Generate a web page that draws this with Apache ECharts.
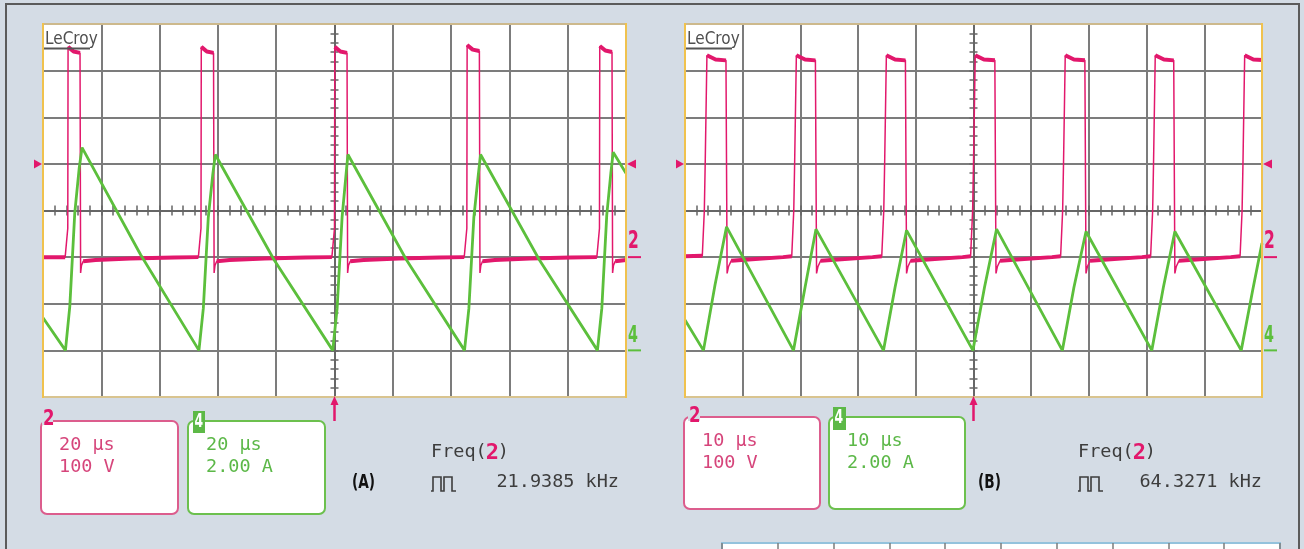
<!DOCTYPE html>
<html>
<head>
<meta charset="utf-8">
<title>Flyback scope captures</title>
<script src="https://cdn.jsdelivr.net/npm/echarts@6/dist/echarts.min.js"></script>
<style>
  html, body { margin: 0; padding: 0; background: #d4dce5; }
  #main { width: 1304px; height: 549px; }
</style>
</head>
<body>
<div id="main"></div>
<script>
// --- values read off the two captures ---
// ch2 = switch voltage (V), ch4 = current (A); time in µs, 0 = trigger
const redA = [
  [-100, 0], [-92.4, 0], [-91.5, 62], [-91.4, 451], [-90.6, 446], [-89.5, 441], [-87.3, 438], [-87.1, -34], [-86.8, -18], [-86.2, -9], [-82, -6], [-70, -3], [-55, -1], [-46.7, 0],
  [-45.8, 62], [-45.7, 451], [-44.9, 446], [-43.8, 441], [-41.5, 438], [-41.3, -34], [-41.0, -18], [-40.4, -9], [-36, -6], [-24, -3], [-10, -1], [-0.9, 0],
  [0, 62], [0.1, 451], [0.9, 446], [2.0, 441], [4.3, 438], [4.5, -34], [4.8, -18], [5.4, -9], [10, -6], [22, -3], [36, -1], [44.5, 0],
  [45.4, 62], [45.5, 455], [46.3, 450], [47.4, 445], [49.7, 442], [49.9, -34], [50.2, -18], [50.8, -9], [55, -6], [67, -3], [81, -1], [90.0, 0],
  [90.9, 62], [91.0, 453], [91.8, 448], [92.9, 443], [95.2, 440], [95.4, -34], [95.7, -18], [96.3, -9], [100, -6]
];
// noisy flat parts of ch2 (drawn thicker)
const redBandA = [
  [-100, 0], [-92.4, 0], [-92.4, '-'],
  [-91.4, 451], [-89.5, 441], [-87.3, 438], [-87.3, '-'],
  [-86.2, -9], [-82, -6], [-70, -3], [-55, -1], [-46.7, 0], [-46.7, '-'],
  [-45.7, 451], [-43.8, 441], [-41.5, 438], [-41.5, '-'],
  [-40.4, -9], [-36, -6], [-24, -3], [-10, -1], [-0.9, 0], [-0.9, '-'],
  [0.1, 451], [2.0, 441], [4.3, 438], [4.3, '-'],
  [5.4, -9], [10, -6], [22, -3], [36, -1], [44.5, 0], [44.5, '-'],
  [45.5, 455], [47.4, 445], [49.7, 442], [49.7, '-'],
  [50.8, -9], [55, -6], [67, -3], [81, -1], [90.0, 0], [90.0, '-'],
  [91.0, 453], [92.9, 443], [95.2, 440], [95.2, '-'],
  [96.3, -9], [100, -6]
];
const greenA = [
  [-100, 1.4], [-92.3, 0], [-90.8, 1.9], [-89.1, 5.9], [-87.6, 7.8], [-86.6, 8.7],
  [-66.5, 4.1], [-46.5, 0], [-45.0, 1.8], [-43.3, 5.7], [-41.8, 7.5], [-40.9, 8.4],
  [-20.8, 3.9], [-0.6, 0], [0.9, 1.8], [2.6, 5.7], [4.0, 7.6], [4.6, 8.4],
  [24.6, 3.9], [44.6, 0], [46.1, 1.8], [47.8, 5.7], [49.3, 7.5], [50.1, 8.4],
  [70.2, 3.9], [90.2, 0], [91.7, 1.8], [93.4, 5.8], [94.8, 7.6], [95.6, 8.5],
  [100, 7.6]
];

const redB = [
  [-50, 2], [-47.0, 3], [-46.65, 100], [-46.5, 200], [-46.2, 433], [-45.7, 428], [-44.7, 424], [-42.9, 422], [-42.7, -35], [-42.45, -20], [-42.0, -8], [-39, -5], [-33, 0], [-31.5, 2],
  [-31.15, 100], [-31.0, 200], [-30.7, 433], [-30.2, 428], [-29.2, 424], [-27.4, 422], [-27.2, -35], [-26.95, -20], [-26.5, -8], [-23.5, -5], [-17.5, 0], [-15.9, 2],
  [-15.55, 100], [-15.4, 200], [-15.1, 433], [-14.6, 428], [-13.6, 424], [-11.8, 422], [-11.6, -35], [-11.35, -20], [-10.9, -8], [-7.9, -5], [-1.9, 0], [-0.5, 2],
  [-0.15, 100], [0, 200], [0.3, 433], [0.8, 428], [1.8, 424], [3.7, 422], [3.9, -35], [4.15, -20], [4.6, -8], [7.6, -5], [13.6, 0], [15.1, 2],
  [15.45, 100], [15.6, 200], [15.9, 433], [16.4, 428], [17.4, 424], [19.3, 422], [19.5, -35], [19.75, -20], [20.2, -8], [23.2, -5], [29.2, 0], [30.7, 2],
  [31.05, 100], [31.2, 200], [31.5, 433], [32.0, 428], [33.0, 424], [34.7, 422], [34.9, -35], [35.15, -20], [35.6, -8], [38.6, -5], [44.6, 0], [46.2, 2],
  [46.55, 100], [46.7, 200], [47.0, 433], [47.5, 428], [48.5, 424], [50, 423]
];
const redBandB = [
  [-50, 2], [-47.0, 3], [-47.0, '-'],
  [-46.2, 433], [-44.7, 424], [-42.9, 422], [-42.9, '-'],
  [-42.0, -8], [-39, -5], [-33, 0], [-31.5, 2], [-31.5, '-'],
  [-30.7, 433], [-29.2, 424], [-27.4, 422], [-27.4, '-'],
  [-26.5, -8], [-23.5, -5], [-17.5, 0], [-15.9, 2], [-15.9, '-'],
  [-15.1, 433], [-13.6, 424], [-11.8, 422], [-11.8, '-'],
  [-10.9, -8], [-7.9, -5], [-1.9, 0], [-0.5, 2], [-0.5, '-'],
  [0.3, 433], [1.8, 424], [3.7, 422], [3.7, '-'],
  [4.6, -8], [7.6, -5], [13.6, 0], [15.1, 2], [15.1, '-'],
  [15.9, 433], [17.4, 424], [19.3, 422], [19.3, '-'],
  [20.2, -8], [23.2, -5], [29.2, 0], [30.7, 2], [30.7, '-'],
  [31.5, 433], [33.0, 424], [34.7, 422], [34.7, '-'],
  [35.6, -8], [38.6, -5], [44.6, 0], [46.2, 2], [46.2, '-'],
  [47.0, 433], [48.5, 424], [50, 423]
];
const greenB = [
  [-50, 1.3], [-46.8, 0], [-44.8, 2.8], [-42.8, 5.3],
  [-31.2, 0], [-29.2, 2.7], [-27.3, 5.2],
  [-15.6, 0], [-13.6, 2.7], [-11.6, 5.15],
  [-0.1, 0], [1.9, 2.7], [4.0, 5.2],
  [15.4, 0], [17.4, 2.7], [19.5, 5.1],
  [30.9, 0], [32.9, 2.7], [34.9, 5.1],
  [46.4, 0], [48.4, 2.6], [50, 4.6]
];

const timeSpan = [100, 50];        // ±µs across the screen
const timeDiv = [20, 10];          // µs per division
const voltAxis = [-300, 500, 100]; // ch2: 100 V/div, ground one div below centre
const ampAxis = [-2, 14, 2];       // ch4: 2 A/div, ground three divs below centre
const trigLevel = 200;             // V
const redBoxText = [['20 μs', '100 V'], ['10 μs', '100 V']];
const greenBoxText = [['20 μs', '2.00 A'], ['10 μs', '2.00 A']];
const freqText = ['21.9385 kHz', '64.3271 kHz'];
const panelNames = ['(A)', '(B)'];

// --- look ---
const BG = '#d4dce5';
const RED = '#e2186c';
const GREEN = '#5cbf3c';
const GRIDLINE = '#7c7c7c';
const AXIS = '#666';
const MONO = '"DejaVu Sans Mono", monospace';
const SANS = '"DejaVu Sans", sans-serif';

const panels = [
  { left: 43, top: 24, width: 583, height: 373 },
  { left: 685, top: 24, width: 577, height: 373 }
];

const grids = [], xAxes = [], yAxes = [], series = [];
panels.forEach((pn, p) => {
  grids.push({
    left: pn.left, top: pn.top, width: pn.width, height: pn.height,
    show: true, backgroundColor: '#fff', borderColor: '#efc25c', borderWidth: 2
  });
  [true, false].forEach((inside, k) => {
    xAxes.push({
      gridIndex: p, type: 'value', position: 'bottom',
      min: -timeSpan[p], max: timeSpan[p], interval: timeDiv[p],
      axisLine: { show: true, onZero: true, onZeroAxisIndex: 4 * p, lineStyle: { color: AXIS, width: 1.5 } },
      axisTick: { show: true, inside, length: 5, lineStyle: { color: AXIS, width: 1.5 } },
      minorTick: { show: true, splitNumber: 5, length: 5, lineStyle: { color: AXIS, width: 1.5 } },
      axisLabel: { show: false },
      splitLine: { show: k === 0, lineStyle: { color: GRIDLINE, width: 2 } }
    });
  });
  [true, false].forEach((inside, k) => {
    yAxes.push({
      gridIndex: p, type: 'value', position: 'left', min: -4, max: 4, interval: 1,
      axisLine: { show: true, onZero: true, onZeroAxisIndex: 2 * p, lineStyle: { color: AXIS, width: 1.5 } },
      axisTick: { show: true, inside, length: 4, lineStyle: { color: AXIS, width: 1.5 } },
      minorTick: { show: true, splitNumber: 5, length: 4, lineStyle: { color: AXIS, width: 1.5 } },
      axisLabel: { show: false },
      splitLine: { show: k === 0, lineStyle: { color: GRIDLINE, width: 2 } }
    });
  });
  yAxes.push({ gridIndex: p, type: 'value', show: false, min: voltAxis[0], max: voltAxis[1], interval: voltAxis[2] });
  yAxes.push({ gridIndex: p, type: 'value', show: false, min: ampAxis[0], max: ampAxis[1], interval: ampAxis[2] });
});

// the next capture, cut off at the bottom edge
grids.push({ left: 722, top: 543, width: 558, height: 40, show: true, backgroundColor: '#fff', borderColor: '#93c2dc', borderWidth: 2 });
xAxes.push({ gridIndex: 2, type: 'value', min: 0, max: 10, interval: 1, axisLine: { show: false }, axisTick: { show: false }, axisLabel: { show: false }, splitLine: { show: true, lineStyle: { color: GRIDLINE, width: 1.5 } } });
yAxes.push({ gridIndex: 2, type: 'value', min: 0, max: 1, show: false });

function trace(data, xi, yi, color, width) {
  return {
    type: 'line', xAxisIndex: xi, yAxisIndex: yi, data, symbol: 'none', showSymbol: false,
    connectNulls: false, silent: true, z: 3,
    lineStyle: { color, width }, itemStyle: { color }
  };
}
series.push(
  trace(redBandA, 0, 2, RED, 4), trace(redA, 0, 2, RED, 1.5), trace(greenA, 0, 3, GREEN, 2.8),
  trace(redBandB, 2, 6, RED, 4), trace(redB, 2, 6, RED, 1.5), trace(greenB, 2, 7, GREEN, 2.8)
);

const chart = echarts.init(document.getElementById('main'));
chart.setOption({ backgroundColor: BG, animation: false, grid: grids, xAxis: xAxes, yAxis: yAxes, series });

// --- screen furniture ---
function txt(x, y, text, size, color, o = {}) {
  const align = o.align || 'left';
  return {
    type: 'text', x, y, z: 20, silent: true, scaleX: o.sx || 1,
    style: {
      text, fill: color, font: `${o.weight || 'normal'} ${size}px ${o.family || MONO}`,
      textAlign: align, align, textVerticalAlign: o.va || 'middle', verticalAlign: o.va || 'middle'
    }
  };
}
function seg(x1, y1, x2, y2, color, w, z) {
  return { type: 'line', z: z || 20, silent: true, shape: { x1, y1, x2, y2 }, style: { stroke: color, lineWidth: w } };
}
function poly(points, color) {
  return { type: 'polygon', z: 20, silent: true, shape: { points }, style: { fill: color } };
}
function box(x, y, w, h, color) {
  return { type: 'rect', z: 15, silent: true, shape: { x, y, width: w, height: h, r: 6 }, style: { fill: '#fff', stroke: color, lineWidth: 2 } };
}

const boxLayout = [
  { rx: 41, gx: 188, y: 421, w: 137, h: 93, t1: 445, t2: 467, lab2: [42, 411, 11, 14], sq: [193, 411, 12, 22], name: 352, fx: 431, fr: 619 },
  { rx: 684, gx: 829, y: 417, w: 136, h: 92, t1: 441, t2: 463, lab2: [688, 408, 12, 13], sq: [833, 407, 13, 23], name: 978, fx: 1078, fr: 1262 }
];

const g = [
  seg(6, 4, 6, 549, '#5b5b5b', 2),
  seg(5, 4, 1300, 4, '#5b5b5b', 2),
  seg(1299, 4, 1299, 549, '#5b5b5b', 2)
];

panels.forEach((pn, p) => {
  const trigY = chart.convertToPixel({ yAxisIndex: 4 * p + 2 }, trigLevel);
  const redGnd = chart.convertToPixel({ yAxisIndex: 4 * p + 2 }, 0);
  const grnGnd = chart.convertToPixel({ yAxisIndex: 4 * p + 3 }, 0);
  const x0 = chart.convertToPixel({ xAxisIndex: 2 * p }, 0);
  const L = pn.left, R = pn.left + pn.width, T = pn.top, B = pn.top + pn.height;

  // screen frame: amber sides, tan top/bottom
  g.push(seg(L, T, R, T, '#cdb98c', 2, 4), seg(L, B, R, B, '#d9c48f', 2, 4));
  g.push(seg(L, T - 1, L, B + 1, '#f0c24e', 2, 4), seg(R, T - 1, R, B + 1, '#f0c24e', 2, 4));

  // LeCroy badge
  g.push(txt(L + 2, 40, 'LeCroy', 17, '#4f4f4f', { family: SANS, sx: 0.9 }));
  g.push(seg(L + 1, 48.5, L + 47, 48.5, '#555', 2));

  // trigger level markers
  g.push(poly([[L - 9, trigY - 4.5], [L - 1, trigY], [L - 9, trigY + 4.5]], RED));
  g.push(poly([[R + 10, trigY - 4.5], [R + 1, trigY], [R + 10, trigY + 4.5]], RED));

  // channel ground markers
  g.push(txt(R + 2, redGnd - 3, '2', 25, RED, { family: SANS, weight: 'bold', sx: 0.62, va: 'bottom' }));
  g.push(seg(R + 2, redGnd, R + 15, redGnd, RED, 2));
  g.push(txt(R + 2, grnGnd - 3, '4', 23, GREEN, { family: SANS, weight: 'bold', sx: 0.62, va: 'bottom' }));
  g.push(seg(R + 2, grnGnd, R + 15, grnGnd, GREEN, 2));

  // trigger time arrow
  g.push(seg(x0, B + 6, x0, B + 24, RED, 2.5));
  g.push(poly([[x0 - 4, B + 8], [x0, B - 1], [x0 + 4, B + 8]], RED));

  // scale boxes
  const bl = boxLayout[p];
  g.push(box(bl.rx, bl.y, bl.w, bl.h, '#dc5d8d'));
  g.push({ type: 'rect', z: 16, silent: true, shape: { x: bl.lab2[0], y: bl.lab2[1], width: bl.lab2[2], height: bl.lab2[3] }, style: { fill: BG } });
  g.push(txt(bl.lab2[0] + 1, bl.lab2[1] + 8, '2', 22, RED, { family: SANS, weight: 'bold', sx: 0.75 }));
  g.push(txt(bl.rx + 18, bl.t1, redBoxText[p][0], 18.5, '#d6457b'));
  g.push(txt(bl.rx + 18, bl.t2, redBoxText[p][1], 18.5, '#d6457b'));

  g.push(box(bl.gx, bl.y, bl.w, bl.h, '#6cc04e'));
  g.push({ type: 'rect', z: 16, silent: true, shape: { x: bl.sq[0], y: bl.sq[1], width: bl.sq[2], height: bl.sq[3] }, style: { fill: '#5db947' } });
  g.push(txt(bl.sq[0] + 1.5, bl.sq[1] + bl.sq[3] / 2, '4', 19, '#fff', { family: SANS, weight: 'bold', sx: 0.65 }));
  g.push(txt(bl.gx + 18, bl.t1, greenBoxText[p][0], 18.5, '#5cb848'));
  g.push(txt(bl.gx + 18, bl.t2, greenBoxText[p][1], 18.5, '#5cb848'));

  // panel tag
  g.push(txt(bl.name, 483, panelNames[p], 19, '#111', { family: SANS, weight: 'bold', sx: 0.72 }));

  // frequency readout
  const cw = 18.5 * 0.602;
  g.push(txt(bl.fx, 452, 'Freq(', 18.5, '#3d3d3d'));
  g.push(txt(bl.fx + 5 * cw + cw / 2, 453, '2', 22, RED, { weight: 'bold', align: 'center' }));
  g.push(txt(bl.fx + 6 * cw, 452, ')', 18.5, '#3d3d3d'));
  const px = bl.fx, top = 477, bot = 491;
  g.push({
    type: 'polyline', z: 20, silent: true,
    shape: { points: [[px, bot], [px + 2, bot], [px + 2, top], [px + 10, top], [px + 10, bot], [px + 13, bot], [px + 13, top], [px + 21, top], [px + 21, bot], [px + 25, bot]] },
    style: { stroke: '#3d3d3d', lineWidth: 1.6, fill: null }
  });
  g.push(txt(bl.fr, 482, freqText[p], 18.5, '#3d3d3d', { align: 'right' }));
});

chart.setOption({ graphic: { elements: g } });
</script>
</body>
</html>
